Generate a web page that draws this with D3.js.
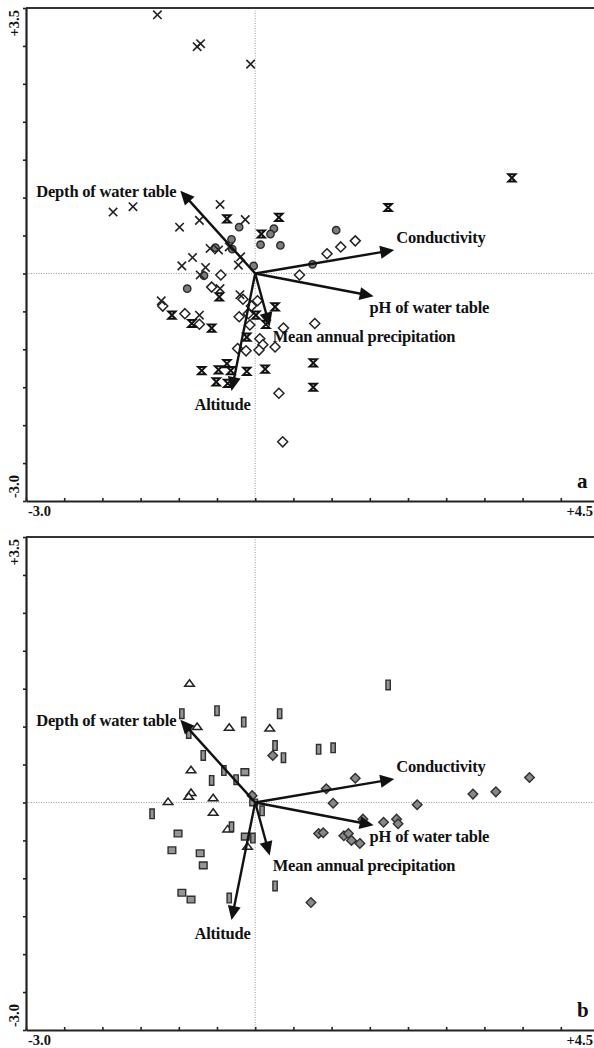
<!DOCTYPE html>
<html>
<head>
<meta charset="utf-8">
<script src="https://cdn.jsdelivr.net/npm/d3@7"></script>
<style>
  html, body { margin: 0; padding: 0; background: #fff; overflow: hidden; }
  svg { display: block; }
  text { font-family: "Liberation Serif", "Times New Roman", serif; font-weight: bold; fill: #111; }
</style>
</head>
<body>
<div id="chart"></div>
<script>
// ---- data (CCA ordination units) ----

// environmental vectors, identical in both panels
const arrowNames = ["Depth of water table", "Conductivity", "pH of water table", "Mean annual precipitation", "Altitude"];
const arrowX = [-0.98, 1.82, 1.55, 0.19, -0.31];
const arrowY = [1.09, 0.31, -0.30, -0.70, -1.55];

// panel a
const crossesA = [
  [-1.28, 3.41], [-0.76, 2.99], [-0.715, 3.03], [-0.06, 2.76], [-1.86, 0.81], [-1.60, 0.88],
  [-0.46, 0.91], [-0.99, 0.61], [-0.73, 0.70], [-0.13, 0.71], [-0.59, 0.33], [-0.48, 0.31],
  [-0.34, 0.35], [-0.82, 0.21], [-0.19, 0.22], [-0.96, 0.10], [-0.65, 0.08], [-0.22, 0.11],
  [-0.72, -0.02], [-0.46, -0.20], [-0.20, -0.28], [-1.23, -0.36], [-0.73, -0.55]
];
const starsA = [
  [-0.37, 0.72], [0.31, 0.74], [0.08, 0.52], [1.74, 0.87], [3.36, 1.26], [-0.47, -0.31],
  [-1.09, -0.55], [-0.83, -0.66], [-0.57, -0.72], [0.01, -0.55], [0.26, -0.44], [0.14, -0.67],
  [-0.11, -0.84], [-0.70, -1.28], [-0.48, -1.27], [-0.37, -1.19], [-0.32, -1.28], [-0.11, -1.29],
  [0.13, -1.26], [0.76, -1.18], [0.76, -1.50], [-0.51, -1.43], [-0.36, -1.45]
];
const circlesA = [
  [-0.21, 0.61], [0.245, 0.59], [0.20, 0.52], [0.07, 0.38], [0.33, 0.37], [1.06, 0.57],
  [-0.31, 0.45], [-0.52, 0.34], [-0.30, 0.32], [-0.02, 0.10], [-0.67, -0.03], [-0.89, -0.20],
  [0.75, 0.12]
];
const diamondsA = [
  [-0.45, -0.02], [-0.57, -0.18], [-0.16, -0.34], [0.03, -0.36], [-0.05, -0.43], [-1.21, -0.43],
  [-0.92, -0.53], [-0.73, -0.67], [-0.21, -0.57], [-0.09, -0.53], [-0.07, -0.68], [0.37, -0.72],
  [0.78, -0.66], [0.06, -0.86], [0.10, -0.94], [0.26, -0.97], [0.05, -1.01], [-0.12, -1.02],
  [-0.23, -0.99], [0.31, -1.58], [0.36, -2.22], [0.94, 0.26], [1.12, 0.35], [1.31, 0.43],
  [0.58, -0.02]
];

// panel b
const trianglesB = [
  [-0.86, 1.57], [-0.76, 1.00], [-0.34, 0.99], [0.19, 0.98], [-0.84, 0.43], [-0.84, 0.13],
  [-0.87, 0.08], [-0.55, 0.06], [-1.14, 0.01], [-0.55, -0.13], [-0.36, -0.35], [-0.10, -0.58]
];
const barsB = [
  [-0.96, 1.17], [-0.50, 1.21], [-0.15, 1.06], [0.32, 1.17], [-0.87, 0.91], [-0.68, 0.62],
  [0.26, 0.75], [0.37, 0.59], [0.83, 0.70], [1.02, 0.72], [-0.41, 0.42], [-0.25, 0.30],
  [-0.57, 0.29], [-1.35, -0.15], [0.09, -0.11], [-0.31, -0.32], [-0.03, -0.47], [0.26, -1.10],
  [-0.34, -1.26], [1.74, 1.55]
];
const squaresB = [
  [-0.135, 0.40], [-1.01, -0.41], [-1.09, -0.63], [-0.72, -0.67], [-0.68, -0.83], [-0.96, -1.19],
  [-0.84, -1.28], [-0.13, -0.45], [-0.02, 0.00]
];
const diamondsB = [
  [-0.04, 0.09], [0.23, 0.62], [0.93, 0.18], [1.31, 0.32], [1.02, -0.01], [2.12, -0.03],
  [1.41, -0.22], [1.68, -0.26], [1.85, -0.22], [1.87, -0.28], [0.83, -0.41], [0.89, -0.40],
  [1.16, -0.44], [1.22, -0.41], [1.26, -0.50], [1.37, -0.54], [0.73, -1.32], [2.85, 0.11],
  [3.15, 0.14], [3.59, 0.33]
];

const xDomain = [-3.0, 4.5];
const yDomain = [-3.0, 3.5];
const xEndLabels = ["-3.0", "+4.5"];
const yEndLabels = ["-3.0", "+3.5"];
const panelLetters = ["a", "b"];

(function () {
  const W = 594, H = 1048;
  const LEFT = 26, RIGHT = 599;    // right end of the axis falls just outside the crop
  const PANEL_H = 493;
  const panelTops = [8, 537];
  const TICK_FONT = 14.5;

  // label placement relative to arrow tips (dx, dy, anchor)
  const labelPos = {
    "Depth of water table": [-4, 6, "end"],
    "Conductivity": [2, -7, "start"],
    "pH of water table": [-4, 17, "start"],
    "Mean annual precipitation": [3, 15, "start"],
    "Altitude": [-9, 19, "middle"]
  };

  const svg = d3.select("#chart").append("svg")
    .attr("width", W)
    .attr("height", H);

  const x = d3.scaleLinear().domain(xDomain).range([LEFT, RIGHT]);

  const symbols = {
    cross: s => `M${-s},${-s}L${s},${s}M${-s},${s}L${s},${-s}`,
    star: s => `M${-s},${-s}H${s}L${-s},${s}H${s}Z`,
    diamond: s => `M0,${-s}L${s},0L0,${s}L${-s},0Z`,
    triangle: s => `M0,${-s * 0.75}L${s},${s * 0.6}L${-s},${s * 0.6}Z`,
    bar: s => `M${-s * 0.45},${-s}H${s * 0.45}V${s}H${-s * 0.45}Z`,
    square: s => `M${-s * 0.8},${-s * 0.7}H${s * 0.8}V${s * 0.7}H${-s * 0.8}Z`,
    circle: s => `M${s},0A${s},${s} 0 1,1 ${-s},0A${s},${s} 0 1,1 ${s},0Z`
  };

  function drawPanel(top, letter, series) {
    const y = d3.scaleLinear().domain(yDomain).range([top + PANEL_H, top]);
    const g = svg.append("g");

    // zero guides
    g.append("line")
      .attr("x1", x(0)).attr("x2", x(0))
      .attr("y1", top).attr("y2", top + PANEL_H)
      .attr("stroke", "#999").attr("stroke-width", 1)
      .attr("stroke-dasharray", "1,1.5");
    g.append("line")
      .attr("x1", LEFT).attr("x2", RIGHT)
      .attr("y1", y(0)).attr("y2", y(0))
      .attr("stroke", "#999").attr("stroke-width", 1)
      .attr("stroke-dasharray", "1,1.5");

    // frame: top line + axes
    g.append("line")
      .attr("x1", LEFT).attr("x2", RIGHT)
      .attr("y1", top).attr("y2", top)
      .attr("stroke", "#333").attr("stroke-width", 2);

    const xAxis = g.append("g")
      .attr("transform", `translate(0,${top + PANEL_H})`)
      .call(d3.axisBottom(x).tickValues(d3.range(-3, 4.51, 0.5)).tickSize(-3).tickSizeOuter(0).tickFormat(""));
    const yAxis = g.append("g")
      .attr("transform", `translate(${LEFT},0)`)
      .call(d3.axisLeft(y).tickValues(d3.range(-3, 3.51, 0.5)).tickSize(3).tickSizeOuter(0).tickFormat(""));
    [xAxis, yAxis].forEach(a => {
      a.select(".domain").attr("stroke", "#222").attr("stroke-width", 2.2);
      a.selectAll(".tick line").attr("stroke", "#222").attr("stroke-width", 1.6);
    });

    g.append("text")
      .attr("x", LEFT + 2).attr("y", top + PANEL_H + 15)
      .attr("font-size", TICK_FONT)
      .text(xEndLabels[0]);
    // the axis end is outside the crop, so keep its label just inside the page
    g.append("text")
      .attr("x", W - 1).attr("y", top + PANEL_H + 15)
      .attr("text-anchor", "end")
      .attr("font-size", TICK_FONT)
      .text(xEndLabels[1]);
    g.append("text")
      .attr("transform", `translate(19,${top + PANEL_H - 3}) rotate(-90)`)
      .attr("font-size", TICK_FONT)
      .text(yEndLabels[0]);
    g.append("text")
      .attr("transform", `translate(19,${top + 2}) rotate(-90)`)
      .attr("text-anchor", "end")
      .attr("font-size", TICK_FONT)
      .text(yEndLabels[1]);

    g.append("text")
      .attr("x", 577).attr("y", top + 480)
      .attr("font-size", 21)
      .text(letter);

    // sample points
    series.forEach(s => {
      g.append("g").selectAll("path")
        .data(s.data)
        .join("path")
        .attr("transform", d => `translate(${x(d[0])},${y(d[1])})`)
        .attr("d", symbols[s.shape](s.size))
        .attr("fill", s.fill)
        .attr("stroke", s.stroke)
        .attr("stroke-width", s.sw)
        .attr("stroke-linejoin", "miter");
    });

    // environmental arrows on top
    const HEAD = 14, HALF = 6.5;
    const arrows = arrowNames.map((name, i) => ({ name, vx: arrowX[i], vy: arrowY[i] }));
    const ga = g.append("g");
    arrows.forEach(a => {
      const x0 = x(0), y0 = y(0), x1 = x(a.vx), y1 = y(a.vy);
      const len = Math.hypot(x1 - x0, y1 - y0);
      const ux = (x1 - x0) / len, uy = (y1 - y0) / len;
      const bx = x1 - ux * HEAD, by = y1 - uy * HEAD;
      ga.append("line")
        .attr("x1", x0).attr("y1", y0)
        .attr("x2", bx + ux).attr("y2", by + uy)
        .attr("stroke", "#111").attr("stroke-width", 2.4);
      ga.append("path")
        .attr("d", `M${x1},${y1}L${bx - uy * HALF},${by + ux * HALF}L${bx + uy * HALF},${by - ux * HALF}Z`)
        .attr("fill", "#111");
      const p = labelPos[a.name];
      ga.append("text")
        .attr("x", x1 + p[0]).attr("y", y1 + p[1])
        .attr("text-anchor", p[2])
        .attr("font-size", 16.5)
        .attr("letter-spacing", -0.2)
        .text(a.name);
    });
  }

  drawPanel(panelTops[0], panelLetters[0], [
    { data: diamondsA, shape: "diamond", size: 5, fill: "#fff", stroke: "#222", sw: 1.5 },
    { data: circlesA, shape: "circle", size: 3.7, fill: "#7d7d7d", stroke: "#2a2a2a", sw: 1.4 },
    { data: crossesA, shape: "cross", size: 4.2, fill: "none", stroke: "#222", sw: 1.6 },
    { data: starsA, shape: "star", size: 3.6, fill: "none", stroke: "#111", sw: 2 }
  ]);

  drawPanel(panelTops[1], panelLetters[1], [
    { data: trianglesB, shape: "triangle", size: 4.8, fill: "#fff", stroke: "#222", sw: 1.5 },
    { data: squaresB, shape: "square", size: 4.8, fill: "#959595", stroke: "#2f2f2f", sw: 1.4 },
    { data: barsB, shape: "bar", size: 4.8, fill: "#959595", stroke: "#2f2f2f", sw: 1.4 },
    { data: diamondsB, shape: "diamond", size: 4.8, fill: "#888", stroke: "#2f2f2f", sw: 1.4 }
  ]);
})();
</script>
</body>
</html>
